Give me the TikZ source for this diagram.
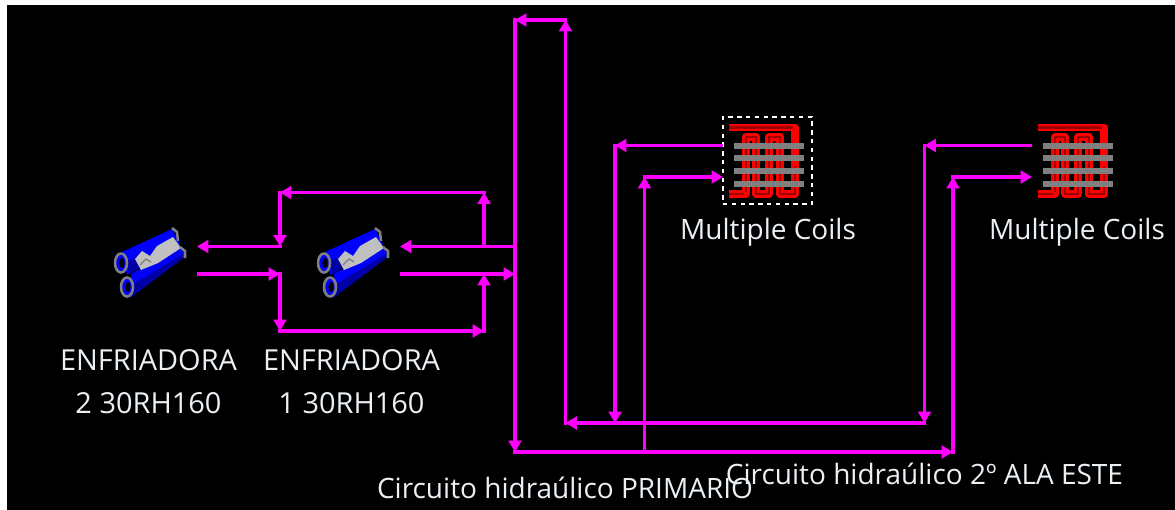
\documentclass[tikz,border=0pt]{standalone}
\usepackage{fontspec}
\setmainfont{Open Sans}
\usetikzlibrary{arrows.meta}
\definecolor{mg}{RGB}{255,0,255}
\definecolor{bl}{RGB}{0,0,255}
\definecolor{dbl}{RGB}{0,0,165}
\definecolor{gr}{RGB}{128,128,128}
\definecolor{lg}{RGB}{192,192,192}
\definecolor{rd}{RGB}{255,0,0}
\definecolor{drd}{RGB}{160,0,0}
\definecolor{tx}{RGB}{235,240,245}
\tikzset{
  x=0.75pt,y=-0.75pt,
  pipe/.style={draw=mg,line width=2.4pt,line cap=rect,-{Triangle[width=9.5pt,length=8.5pt]}},
  label/.style={text=tx,font=\fontsize{21}{24}\selectfont,inner sep=0pt,anchor=base},
  labelb/.style={label,font=\fontsize{21.7}{24}\selectfont},
  tube/.style={draw=gr,line width=1.9pt,fill=bl},
  chillerpic/.pic={
    % upper tube
    \fill[bl] (-27,-10) -- (23,-33) -- (31,-18) -- (-22,13) -- cycle;
    \fill[dbl] (-22,-1) -- (-8,-7) -- (-6,4) -- (-20,12) -- cycle;
    % lower tube
    \fill[dbl] (-18,12) -- (32,-16) -- (36,-5) -- (-19,36) -- cycle;
    \fill[bl] (-18,12) -- (32,-16) -- (34,-8) -- (-16,22) -- cycle;
    % grey shell
    \fill[lg] (-14,-3) -- (-7,-11) -- (1,-6) -- (8,-16) -- (24,-25) -- (32,-14) -- (9,1) -- (-8,8) -- cycle;
    \draw[gr,line width=1.9pt] (23,-34) -- (28,-30) -- (29,-21);
    \draw[gr,line width=1.9pt] (31,-15) -- (36,-11) -- (36,-4);
    \draw[gr,line width=1pt] (-9,3) -- (-3,-3) -- (2,0);
    % tube ends
    \draw[tube] (-28,1) ellipse (6 and 9.5);
    \fill[black] (-27,1) ellipse (2.6 and 5);
    \draw[tube] (-22,25) ellipse (6 and 9.5);
    \fill[black] (-21,25) ellipse (2.6 and 5);
  },
  coilpic/.pic={
    % tubes first, fins over them; origin at the top left of the frame
    \foreach \a/\b in {22/32,45/56}{
      \draw[rd,line width=6pt,line join=round] (\a,50) -- (\a,21) -- (\b,21) -- (\b,50);
      \draw[drd,line width=1.8pt] (\a,50) -- (\a,21) -- (\b,21) -- (\b,50);
    }
    \foreach \a/\b in {32/45,56/71}{
      \draw[rd,line width=6pt,line join=round] (\a,50) -- (\a,78) -- (\b,78) -- (\b,50);
      \draw[drd,line width=1.8pt] (\a,50) -- (\a,78) -- (\b,78) -- (\b,50);
    }
    \draw[rd,line width=5.5pt,line join=round] (5,78) -- (22,78) -- (22,50);
    \draw[drd,line width=2pt] (5,78) -- (20,78);
    \draw[drd,line width=1.8pt] (22,76) -- (22,50);
    \draw[rd,line width=5.5pt,line join=round] (5,11.5) -- (71,11.5) -- (71,50);
    \draw[drd,line width=2.5pt] (5,11.5) -- (69,11.5);
    \foreach \y in {30,42,55,68}
      \fill[gr] (10,\y-2.7) rectangle (80,\y+2.7);
  }
}
\begin{document}
\begin{tikzpicture}
\useasboundingbox (0,0) rectangle (1175,510);
\fill[white] (0,0) rectangle (1175,510);
\fill[black] (7,5) rectangle (1175,510);

% icons
\pic at (149,262) {chillerpic};
\pic at (352,262) {chillerpic};
\pic at (724,116) {coilpic};
\pic at (1033,116) {coilpic};
\node[draw=white,line width=1.1pt,dash pattern=on 3.3pt off 3.3pt,minimum width=66.75pt,minimum height=65.25pt,inner sep=0pt] (sel) at (767.5,160.5) {};

% junctions
\coordinate (c2in) at (197,246.5);
\coordinate (c2out) at (198.5,274);
\coordinate (c1in) at (400,246.5);
\coordinate (c1out) at (401.5,274);
\coordinate (ja) at (280,246.5);
\coordinate (jb) at (280,274);
\coordinate (jc) at (280,192.5);
\coordinate (jd) at (280,331);
\coordinate (je) at (484,192.5);
\coordinate (jf) at (484,331);
\coordinate (jg) at (484,246.5);
\coordinate (jh) at (484,274);
\coordinate (mt) at (515,20);
\coordinate (ma) at (515,246.5);
\coordinate (mb) at (515,274);
\coordinate (mc) at (515,452);
\coordinate (rt) at (565.5,20);
\coordinate (rb) at (565.5,423);
\coordinate (k1) at (615,423);
\coordinate (k2) at (924.5,423);
\coordinate (k3) at (615,145.5);
\coordinate (k4) at (924.5,145.5);
\coordinate (l1) at (644.5,452);
\coordinate (l2) at (953,452);
\coordinate (l3) at (644.5,177);
\coordinate (l4) at (953,177);
\coordinate (cA) at (721.5,145.5);
\coordinate (cB) at (723,177);
\coordinate (dA) at (1030.5,145.5);
\coordinate (dB) at (1032,177);

% chillers
\draw[pipe] (ma) -- (c1in);
\draw[pipe] (jg) -- (je);
\draw[pipe] (je) -- (jc);
\draw[pipe] (jc) -- (ja);
\draw[pipe] (ja) -- (c2in);
\draw[pipe] (c2out) -- (jb);
\draw[pipe] (jb) -- (jd);
\draw[pipe] (jd) -- (jf);
\draw[pipe] (jf) -- (jh);
\draw[pipe] (c1out) -- (mb);
% risers
\draw[pipe] (mt) -- (mc);
\draw[pipe] (mc) -- (l2);
\draw[pipe] (l2) -- (l4);
\draw[pipe] (l4) -- (dB);
\draw[pipe] (l1) -- (l3);
\draw[pipe] (l3) -- (cB);
\draw[pipe] (dA) -- (k4);
\draw[pipe] (k4) -- (k2);
\draw[pipe] (k2) -- (rb);
\draw[pipe] (cA) -- (k3);
\draw[pipe] (k3) -- (k1);
\draw[pipe] (rb) -- (rt);
\draw[pipe] (rt) -- (mt);

% labels
\node[labelb] (t1) at (148.5,370) {ENFRIADORA};
\node[labelb] (t2) at (148.5,413) {2 30RH160};
\node[labelb] (t3) at (351.5,370) {ENFRIADORA};
\node[labelb] (t4) at (351.5,413) {1 30RH160};
\node[label] (t5) at (768,239) {Multiple Coils};
\node[label] (t6) at (1077,239) {Multiple Coils};
\node[label] (t7) at (565,498.5) {Circuito hidraúlico PRIMARIO};
\node[label] (t8) at (924.5,484.5) {Circuito hidraúlico 2º ALA ESTE};
\end{tikzpicture}
\end{document}
